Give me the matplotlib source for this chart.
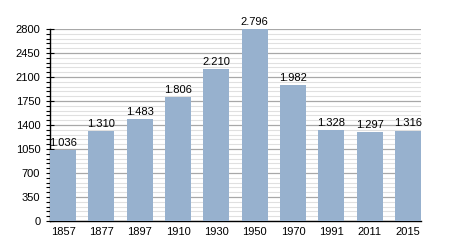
import matplotlib
matplotlib.use('Agg')
import matplotlib.pyplot as plt
from matplotlib.ticker import MultipleLocator

plt.rcParams['font.family'] = ['Liberation Sans', 'DejaVu Sans']

years = ['1857', '1877', '1897', '1910', '1930', '1950', '1970', '1991', '2011', '2015']
population = [1036, 1310, 1483, 1806, 2210, 2796, 1982, 1328, 1297, 1316]

bar_color = '#97b1ce'
width = 0.68

fig = plt.figure(figsize=(4.5, 2.5), dpi=100)
ax = fig.add_axes([50 / 450, 29 / 250, 371 / 450, 192 / 250])

x = range(len(years))
ax.bar(x, population, width=width, color=bar_color, zorder=3)

for xi, v in zip(x, population):
    label = '{:,}'.format(v).replace(',', '.')
    ax.text(xi, v + 35, label, ha='center', va='bottom', fontsize=8, zorder=4)

ax.set_xlim(-width / 2, len(years) - 1 + width / 2)
ax.set_ylim(0, 2800)
ax.set_xticks(list(x))
ax.set_xticklabels(years, fontsize=8)
ax.yaxis.set_major_locator(MultipleLocator(350))
ax.yaxis.set_minor_locator(MultipleLocator(70))
ax.tick_params(axis='y', labelsize=8, pad=4)
ax.tick_params(axis='y', which='major', direction='inout', length=6, width=0.8)
ax.tick_params(axis='y', which='minor', direction='out', length=3, width=0.8)
ax.tick_params(axis='x', length=0, pad=4)

ax.grid(axis='y', which='major', color='#a8a8a8', linewidth=0.9, zorder=1)
ax.grid(axis='y', which='minor', color='#e0e0e0', linewidth=0.8, zorder=1)

for s in ['top', 'right']:
    ax.spines[s].set_visible(False)
ax.spines['left'].set_linewidth(1.0)
ax.spines['bottom'].set_linewidth(1.0)

fig.savefig('out.png', dpi=100)
